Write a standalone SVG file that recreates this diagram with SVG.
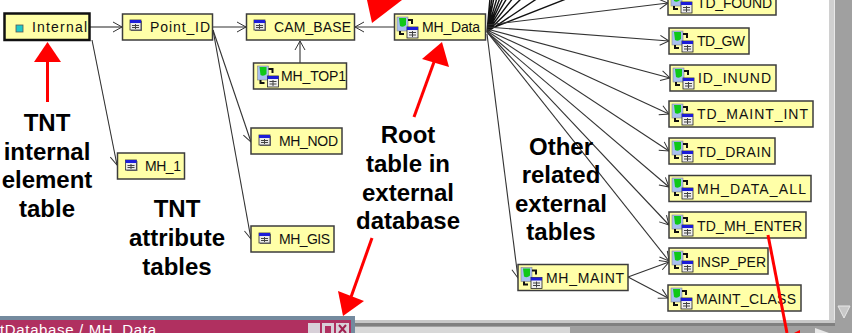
<svg xmlns="http://www.w3.org/2000/svg" width="852" height="333" viewBox="0 0 852 333">
<style>
.box{fill:#ffffa8;stroke:#3c3c3c;stroke-width:1.5}
.lbl{font-family:"Liberation Sans",Arial,sans-serif;font-size:14px;fill:#111}
.note{font-family:"Liberation Sans",Arial,sans-serif;font-size:24px;font-weight:bold;fill:#000;text-anchor:middle}
.c{fill:none;stroke:#333;stroke-width:1.1;marker-end:url(#open)}
.r{fill:#ff0000;stroke:none}
.rl{stroke:#ff0000;stroke-width:3;fill:none}
</style>
<defs>
<marker id="open" markerUnits="userSpaceOnUse" markerWidth="14" markerHeight="14" refX="11" refY="7" orient="auto">
<path d="M2 2L11 7L2 12" fill="none" stroke="#333" stroke-width="1"/>
</marker>
<g id="tbl">
<rect x="1" y="1" width="11" height="10" fill="#777"/>
<rect x="0" y="0" width="11" height="10" fill="#e8e8e8" stroke="#333" stroke-width=".8"/>
<rect x="0" y="0" width="11" height="3" fill="#1c1cd8"/>
<path d="M2 5.500H9M2 7.500H9M5.500 4V9" stroke="#444" stroke-width="1"/>
</g>
<g id="ext">
<rect x="0" y="0" width="11" height="14" fill="#a8c0f0" stroke="#888" stroke-width=".6"/>
<path d="M2 1H9V8Q6 11 3 9Z" fill="#10c818"/>
<path d="M11 3H15V7M3 14V17H7" fill="none" stroke="#111" stroke-width="2"/>
<rect x="10" y="10" width="11" height="11" fill="#eee" stroke="#222" stroke-width=".8"/>
<rect x="10" y="10" width="11" height="3" fill="#1c1cd8"/>
<path d="M12 15.500H19M12 18H19M15.500 14V20" stroke="#444" stroke-width="1"/>
</g>
</defs>
<rect width="852" height="333" fill="#ffffff"/>

<g id="connectors">
<path class="c" d="M90 27H122"/>
<path class="c" d="M213 27H246"/>
<path class="c" d="M394 27H355"/>
<path class="c" d="M300 63V41"/>
<path class="c" d="M92 40L117 165"/>
<path class="c" d="M213 30L251 142"/>
<path class="c" d="M213 30L251 239"/>
<path class="c" d="M628 277L669 262"/>
<path class="c" d="M628 277L668 298"/>
<path class="c" d="M487 34L518 278"/>
<g stroke="#111" stroke-width="1.4" fill="none">
<path d="M487 32L490 -2M487 32L492 -2M487 32L494 -2M487 32L497 -2M487 32L500 -2M487 32L503 -2M487 32L507 -2M487 32L513 -2M487 32L522 -2M487 32L538 -2M487 30L566 -1"/>
</g>
<path class="c" d="M487 25L668 3"/>
<path class="c" d="M487 27L669 41"/>
<path class="c" d="M487 29L670 78"/>
<path class="c" d="M487 30L669 114"/>
<path class="c" d="M487 31L669 151"/>
<path class="c" d="M487 32L669 187"/>
<path class="c" d="M487 32L669 225"/>
<path class="c" d="M487 32L669 261"/>
</g>

<g id="n-internal"><rect x="4.500" y="13.500" width="85" height="26.500" fill="#ffffa8" stroke="#111" stroke-width="2.500"/><rect x="16" y="25" width="7" height="7" fill="#20c8c8" stroke="#555" stroke-width=".8"/><text class="lbl" x="32" y="32" textLength="55">Internal</text></g>
<g id="n-point-id"><rect class="box" x="122.500" y="14" width="90" height="26"/><use href="#tbl" x="130" y="20"/><text class="lbl" x="150" y="32" textLength="60">Point_ID</text></g>
<g id="n-cam-base"><rect class="box" x="246.500" y="14" width="108" height="26"/><use href="#tbl" x="254" y="20"/><text class="lbl" x="274" y="32" textLength="77">CAM_BASE</text></g>
<g id="n-mh-top1"><rect class="box" x="253.500" y="63" width="93" height="26"/><use href="#ext" x="257.500" y="66"/><text class="lbl" x="281" y="81" textLength="65">MH_TOP1</text></g>
<g id="n-mh-data"><rect class="box" x="394.500" y="14" width="91" height="26"/><use href="#ext" x="397" y="17"/><text class="lbl" x="422" y="32" textLength="58">MH_Data</text></g>
<g id="n-mh-1"><rect class="box" x="117.500" y="153" width="67" height="26"/><use href="#tbl" x="125.500" y="160"/><text class="lbl" x="145" y="171" textLength="36">MH_1</text></g>
<g id="n-mh-nod"><rect class="box" x="251" y="128" width="91" height="26"/><use href="#tbl" x="259" y="135"/><text class="lbl" x="279" y="146" textLength="59">MH_NOD</text></g>
<g id="n-mh-gis"><rect class="box" x="251" y="226" width="83" height="26"/><use href="#tbl" x="259" y="233"/><text class="lbl" x="279" y="244" textLength="51">MH_GIS</text></g>
<g id="n-td-found"><rect class="box" x="668" y="-11" width="108" height="26"/><use href="#ext" x="671" y="-8"/><text class="lbl" x="697" y="8" textLength="75">TD_FOUND</text></g>
<g id="n-td-gw"><rect class="box" x="669" y="28" width="80" height="26"/><use href="#ext" x="672" y="31"/><text class="lbl" x="697" y="46" textLength="48">TD_GW</text></g>
<g id="n-id-inund"><rect class="box" x="670" y="65" width="106" height="26"/><use href="#ext" x="673" y="68"/><text class="lbl" x="698" y="83" textLength="73">ID_INUND</text></g>
<g id="n-td-maint-int"><rect class="box" x="669" y="101" width="144" height="26"/><use href="#ext" x="672" y="104"/><text class="lbl" x="697" y="119" textLength="111">TD_MAINT_INT</text></g>
<g id="n-td-drain"><rect class="box" x="669" y="138" width="106" height="26"/><use href="#ext" x="672" y="141"/><text class="lbl" x="697" y="157" textLength="74">TD_DRAIN</text></g>
<g id="n-mh-data-all"><rect class="box" x="669" y="175.500" width="142" height="26"/><use href="#ext" x="672" y="178"/><text class="lbl" x="697" y="194" textLength="109">MH_DATA_ALL</text></g>
<g id="n-td-mh-enter"><rect class="box" x="669" y="212" width="137" height="26"/><use href="#ext" x="672" y="215"/><text class="lbl" x="697" y="231" textLength="105">TD_MH_ENTER</text></g>
<g id="n-insp-per"><rect class="box" x="669" y="248" width="99" height="26"/><use href="#ext" x="672" y="251"/><text class="lbl" x="697" y="267" textLength="69">INSP_PER</text></g>
<g id="n-maint-class"><rect class="box" x="668" y="285" width="133" height="26"/><use href="#ext" x="671" y="288"/><text class="lbl" x="696" y="304" textLength="100">MAINT_CLASS</text></g>
<g id="n-mh-maint"><rect class="box" x="518" y="264.500" width="110" height="26"/><use href="#ext" x="521" y="267.500"/><text class="lbl" x="546" y="283" textLength="78">MH_MAINT</text></g>

<g id="frame">
<rect x="829" y="0" width="6" height="320" fill="#d0d0d0"/>
<rect x="835" y="0" width="17" height="333" fill="#a0a0a0"/>
<rect x="834" y="0" width="1" height="320" fill="#e8e8e8"/>
<path d="M838 306H850L844 318Z" fill="#c8c8c8" stroke="#e8e8e8"/>
<rect x="0" y="320" width="835" height="3" fill="#c8c8c8"/>
<rect x="0" y="323" width="835" height="3" fill="#808080"/>
<rect x="0" y="326" width="852" height="7" fill="#a0a0a0"/>
<rect x="355" y="327" width="215" height="6" fill="#d8d8d8"/>
<path d="M815 328L829 333H815Z" fill="#e8e8e8"/>
</g>

<g id="window">
<rect x="0" y="316" width="355" height="17" fill="#748a9e"/>
<rect x="0" y="320" width="351" height="13" fill="#b03060"/>
<text x="0" y="335" font-family="'Liberation Sans',Arial,sans-serif" font-size="15" fill="#fff" textLength="156">tDatabase / MH_Data</text>
<rect x="308" y="323" width="12" height="10" fill="#d8d0d8"/>
<rect x="322" y="323" width="12" height="10" fill="#d8d0d8"/>
<rect x="325" y="326" width="6" height="7" fill="#b03060"/>
<rect x="336" y="323" width="13" height="10" fill="#d8d0d8"/>
<path d="M339 325L346 333M346 325L339 333" stroke="#a02050" stroke-width="2"/>
</g>

<g id="labels">
<text class="note"><tspan x="47" y="131">TNT</tspan><tspan x="47" y="160">internal</tspan><tspan x="47" y="188">element</tspan><tspan x="47" y="217">table</tspan></text>
<text class="note"><tspan x="177" y="217">TNT</tspan><tspan x="177" y="246">attribute</tspan><tspan x="177" y="275">tables</tspan></text>
<text class="note"><tspan x="408" y="143">Root</tspan><tspan x="408" y="172">table in</tspan><tspan x="408" y="201">external</tspan><tspan x="408" y="229">database</tspan></text>
<text class="note"><tspan x="561" y="155">Other</tspan><tspan x="561" y="183">related</tspan><tspan x="561" y="212">external</tspan><tspan x="561" y="240">tables</tspan></text>
</g>

<g id="callouts">
<path class="r" d="M47.500 42L34 62H61Z"/><path class="rl" d="M47.500 62V102"/>
<path class="r" d="M367 0H402L372 23Z"/>
<path class="r" d="M442 42L422 59L449 67Z"/><path class="rl" d="M434 62L414 117"/>
<path class="r" d="M343 316L338 291L364 301Z"/><path class="rl" d="M372 238L351 297"/>
<path class="rl" d="M768 235L787 333"/>
<path class="r" d="M794 333L800 330V333Z"/>
</g>
</svg>
